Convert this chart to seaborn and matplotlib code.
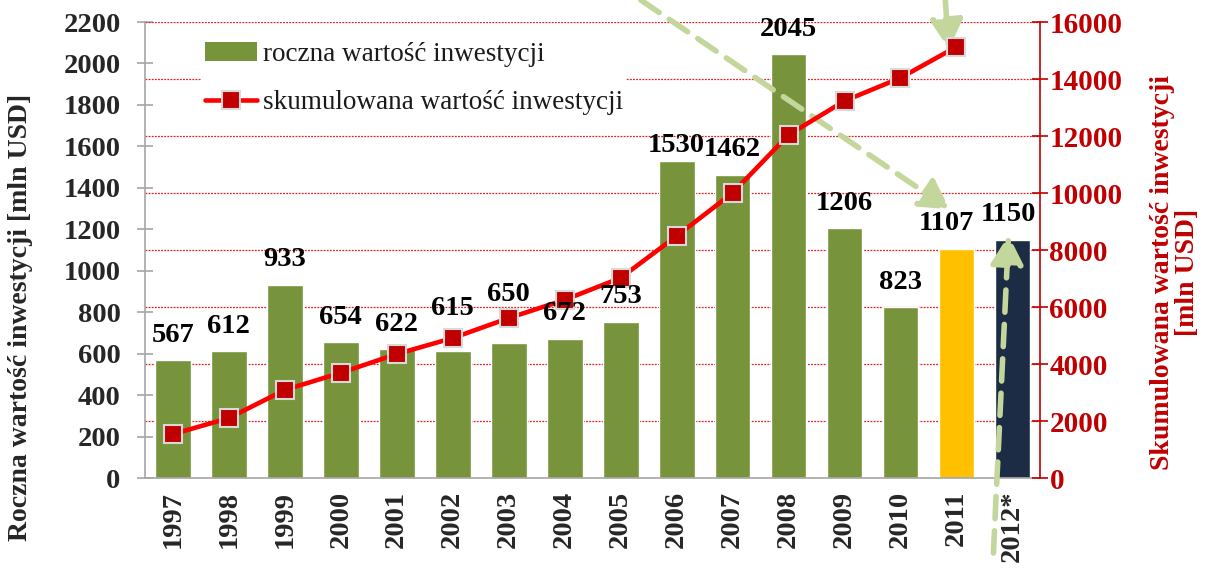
import numpy as np
import pandas as pd
import matplotlib
matplotlib.use("Agg")
import matplotlib.pyplot as plt
import seaborn as sns
from matplotlib.patches import Patch
from matplotlib.lines import Line2D

# ---- data ----
years = ["1997", "1998", "1999", "2000", "2001", "2002", "2003", "2004",
         "2005", "2006", "2007", "2008", "2009", "2010", "2011", "2012*"]
annual = [567, 612, 933, 654, 622, 615, 650, 672, 753, 1530, 1462, 2045,
          1206, 823, 1107, 1150]
cumulative = [1540, 2100, 3090, 3690, 4350, 4910, 5610, 6250, 7020, 8490,
              10000, 12040, 13230, 14040, 15130, np.nan]
bar_colors = ["#77933C"] * 14 + ["#FFC000", "#1C2C45"]
left_ticks = list(range(0, 2201, 200))
right_ticks = list(range(0, 16001, 2000))
label_annual = "roczna wartość inwestycji"
label_cum = "skumulowana wartość inwestycji"
ylabel_left = "Roczna wartość inwestycji [mln USD]"
ylabel_right = "Skumulowana wartość inwestycji\n[mln USD]"
# manual label nudges (points) as in the original chart
label_dx = [0] * 14 + [-7, -3]
label_dy = [0, 0, 0, 0, 0, 12, 17, 0, 0, -7, 0, 0, 0, 0, 0, 0]

sns.set_theme(style="white")
plt.rcParams["font.family"] = ["Liberation Serif", "DejaVu Serif"]

GREEN_ARROW = "#C3D69B"
RED = "#FF0000"
DARKRED = "#C00000"
GRAY = "#A6A6A6"
FS = 20.5

fig = plt.figure(figsize=(12.07, 5.70), dpi=100)
ax = fig.add_axes([0.120, 0.1614, 0.742, 0.800])

df = pd.DataFrame({"year": years, "annual": annual})
sns.barplot(data=df, x="year", y="annual", hue="year", palette=bar_colors,
            legend=False, width=0.64, saturation=1, ax=ax, zorder=2)

ax.set_xlim(-0.5, len(years) - 0.5)
ax.set_ylim(left_ticks[0], left_ticks[-1])
ax.set_yticks(left_ticks)
ax.set_yticklabels([str(t) for t in left_ticks], fontsize=FS, fontweight="bold")

# grid lines at right-axis ticks (in left units), behind bars
ratio = left_ticks[-1] / right_ticks[-1]
ax.hlines([t * ratio for t in right_ticks[1:]], -0.5, len(years) - 0.5,
          colors="#E02020", linestyles=(0, (1.5, 1)), lw=0.9, zorder=1)

ax.set_xticks(np.arange(len(years)))
ax.set_xticklabels(years, rotation=90, fontsize=FS, fontweight="bold")
ax.set_xticks(np.arange(-0.5, len(years), 1), minor=True)
ax.tick_params(axis="x", which="major", length=0, pad=9)
ax.tick_params(axis="x", which="minor", length=11, direction="inout",
               color=GRAY, width=1.2)
ax.tick_params(axis="y", length=11, direction="inout", color=GRAY, width=1.2,
               left=True, pad=12)
ax.set_xlabel("")
ax.set_ylabel(ylabel_left, fontsize=20, fontweight="bold")
ax.yaxis.set_label_coords(-0.125, 0.353)

for s in ["top", "right"]:
    ax.spines[s].set_visible(False)
for s in ["left", "bottom"]:
    ax.spines[s].set_color(GRAY)
    ax.spines[s].set_linewidth(1.2)

# ---- cumulative line on right axis ----
ax2 = ax.twinx()
sns.lineplot(x=np.arange(len(years)), y=cumulative, ax=ax2, color=RED,
             lw=3.3, marker="s", markersize=13, markerfacecolor=DARKRED,
             markeredgecolor="#D9D9D9", markeredgewidth=1.5, zorder=5)
ax2.set_ylim(right_ticks[0], right_ticks[-1])
ax2.set_yticks(right_ticks)
ax2.set_yticklabels([str(t) for t in right_ticks], fontsize=21,
                    fontweight="bold", color=DARKRED)
ax2.tick_params(axis="y", length=11, direction="inout", color=DARKRED,
                width=1.2, right=True, pad=1)
for s in ["top", "left", "bottom"]:
    ax2.spines[s].set_visible(False)
ax2.spines["right"].set_color(DARKRED)
ax2.spines["right"].set_linewidth(1.2)
ax2.set_ylabel(ylabel_right, fontsize=20, fontweight="bold", color=DARKRED,
               linespacing=1.0)
ax2.yaxis.set_label_coords(1.122, 0.45)

# value labels above bars, drawn on top of the line
for i, v in enumerate(annual):
    ax2.annotate(str(v), xy=(i, v), xycoords=ax.transData,
                 xytext=(label_dx[i], 9 + label_dy[i]),
                 textcoords="offset points", ha="center", va="bottom",
                 fontsize=FS, fontweight="bold", color="black", zorder=7)

handles = [Patch(facecolor=bar_colors[0], edgecolor="none"),
           Line2D([], [], color=RED, lw=3.3, marker="s", markersize=13,
                  markerfacecolor=DARKRED, markeredgecolor="#D9D9D9",
                  markeredgewidth=1.5)]
leg = ax2.legend(handles, [label_annual, label_cum], loc="upper left",
                 bbox_to_anchor=(0.048, 0.993), frameon=True,
                 facecolor="white", edgecolor="none", framealpha=1,
                 fontsize=19.5, handlelength=1.95, handletextpad=0.2,
                 labelspacing=0.86, borderpad=0.12)
leg.set_zorder(10)
for t in leg.get_texts():
    t.set_color("#1a1a1a")

# ---- dashed annotation arrows ----
arrow_kw = dict(arrowstyle="-|>,head_length=0.8,head_width=0.45",
                color=GREEN_ARROW, lw=4, linestyle=(0, (4, 2.2)),
                mutation_scale=22, shrinkA=0, shrinkB=0)
ax.annotate("", xy=(13.88, 1296), xytext=(8.36, 2306),
            arrowprops=arrow_kw, annotation_clip=False)
ax.annotate("", xy=(13.86, 2070), xytext=(13.8, 2306),
            arrowprops=arrow_kw, annotation_clip=False)
ax.annotate("", xy=(14.93, 1172), xytext=(14.66, -362),
            arrowprops=arrow_kw, annotation_clip=False)

fig.savefig("out.png", dpi=100)
